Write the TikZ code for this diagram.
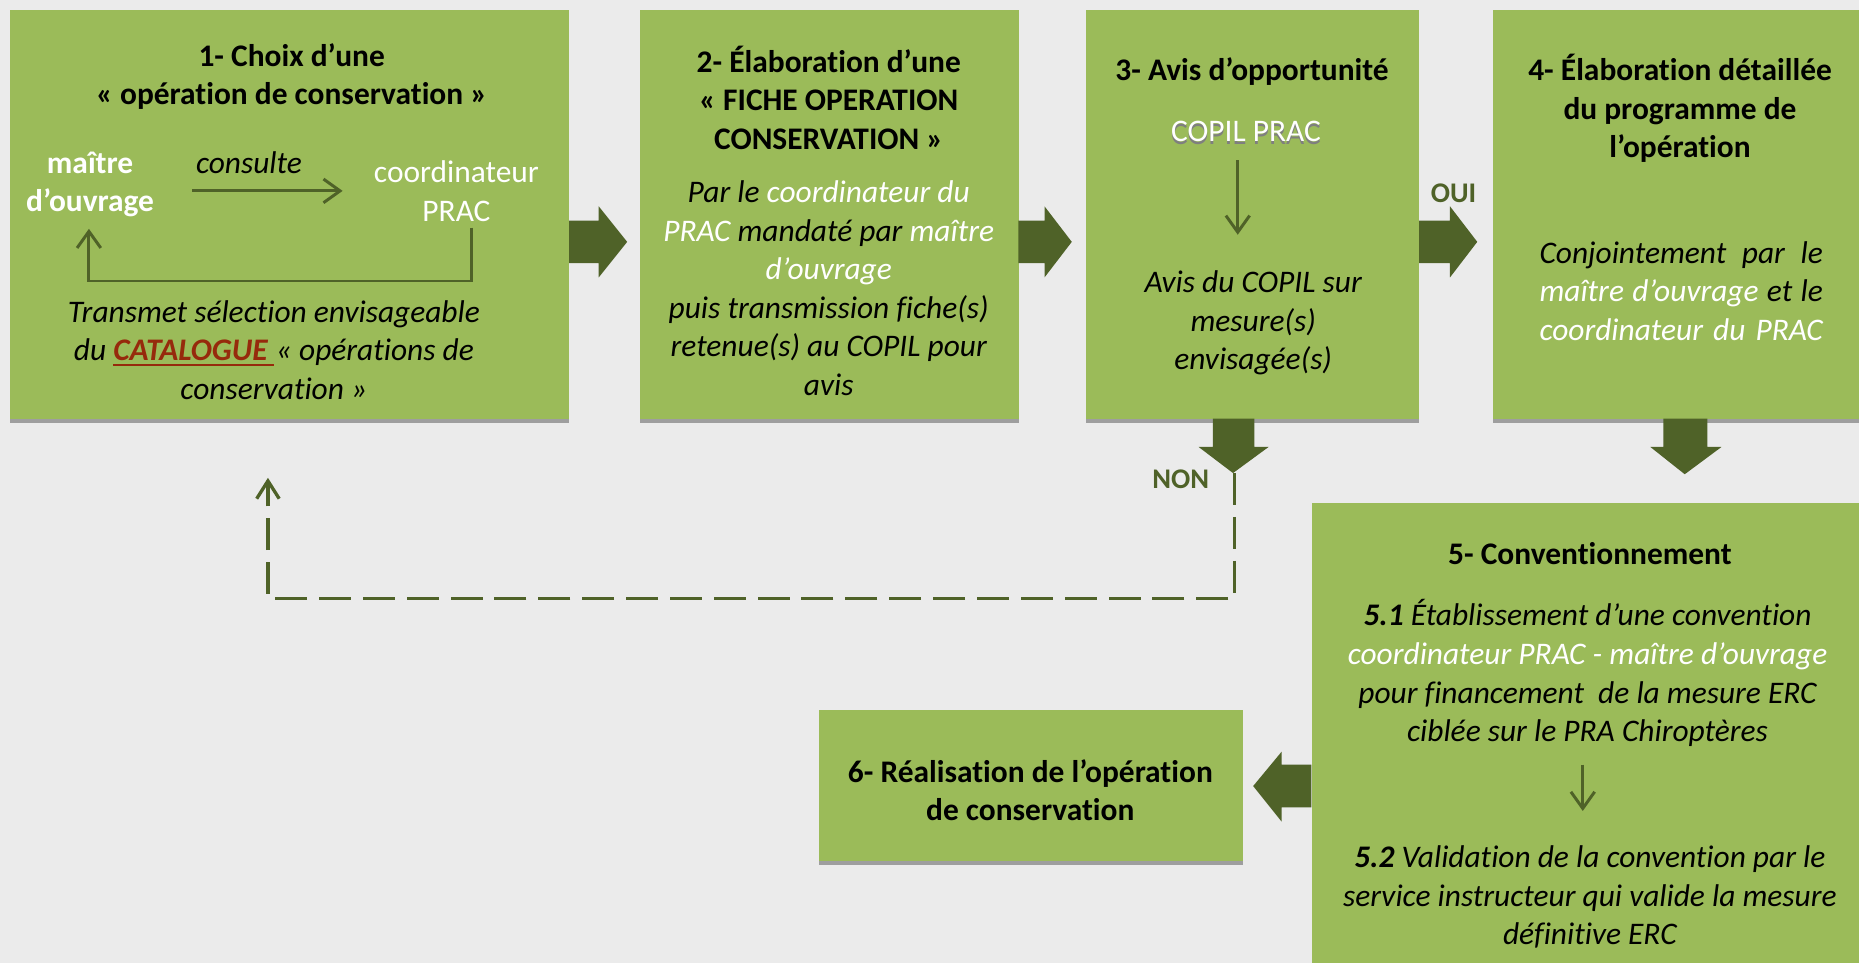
\documentclass[tikz,border=0pt]{standalone}
\usepackage{fontspec}
\setmainfont{Carlito}[Ligatures=NoCommon]
\usetikzlibrary{arrows.meta,shadows}
\definecolor{bg}{HTML}{EBEBEB}
\definecolor{boxgreen}{HTML}{9BBB59}
\definecolor{dkgreen}{HTML}{4F6228}
\definecolor{shadowgray}{HTML}{9E9E9E}
\definecolor{catred}{HTML}{962A0C}
\definecolor{copilgray}{HTML}{7F7F7F}
\newcommand\catul[1]{\setbox0=\hbox{#1}\rlap{\rule[-4pt]{\wd0}{1.6pt}}\box0}
\begin{document}
\begin{tikzpicture}[x=1pt,y=-1pt,
  box/.style={fill=boxgreen, inner sep=0pt, anchor=north west, general shadow={fill=shadowgray, shadow yshift=-3.5pt}},
  body/.style={anchor=north, inner sep=0pt, align=center, font=\fontsize{26.5}{32.5}\selectfont},
  ttl/.style={body, font=\fontsize{26.5}{32.5}\selectfont\bfseries},
  itl/.style={body, font=\fontsize{26.5}{32.5}\selectfont\itshape},
  blockarrow/.style={fill=dkgreen},
  thinarrow/.style={draw=dkgreen, line width=2.5pt, -{Straight Barb[length=14pt,width=20pt]}},
  dashline/.style={draw=dkgreen, line width=2.8pt, dash pattern=on 27pt off 10pt, -{Straight Barb[length=15pt,width=19pt]}},
  lbl/.style={inner sep=0pt, text=dkgreen, font=\fontsize{24}{28}\selectfont\bfseries}
]
\useasboundingbox (0,0) rectangle (1568,812);
\fill[bg] (0,0) rectangle (1568,812);
\clip (0,0) rectangle (1568,812);

% boxes
\node[box, minimum width=472pt, minimum height=345pt] (b1) at (8,8) {};
\node[box, minimum width=319pt, minimum height=345pt] (b2) at (540,8) {};
\node[box, minimum width=281pt, minimum height=345pt] (b3) at (916,8) {};
\node[box, minimum width=330pt, minimum height=345pt] (b4) at (1259,8) {};
\node[box, minimum width=480pt, minimum height=400pt] (b5) at (1106,424) {};
\node[box, minimum width=357pt, minimum height=127pt] (b6) at (691,599) {};

% block arrows
\fill[blockarrow] (480,186) -- (505,186) -- (505,174) -- (529,204) -- (505,234) -- (505,222) -- (480,222) -- cycle;
\fill[blockarrow] (859,186) -- (881,186) -- (881,174) -- (904,204) -- (881,234) -- (881,222) -- (859,222) -- cycle;
\fill[blockarrow] (1197,186) -- (1223,186) -- (1223,174) -- (1246,204) -- (1223,234) -- (1223,222) -- (1197,222) -- cycle;
\fill[blockarrow] (1023,353) -- (1058,353) -- (1058,377) -- (1070,377) -- (1040,399) -- (1011,377) -- (1023,377) -- cycle;
\fill[blockarrow] (1403,353) -- (1440,353) -- (1440,377) -- (1452,377) -- (1421,400) -- (1392,377) -- (1403,377) -- cycle;
\fill[blockarrow] (1106,645) -- (1081,645) -- (1081,634) -- (1057,663) -- (1081,693) -- (1081,681) -- (1106,681) -- cycle;

\node[lbl] (oui) at (1226,163) {OUI};
\node[lbl] (non) at (996,404) {NON};

% box 1
\node[ttl] (t1) at (246,33) {\strut 1- Choix d’une\\« opération de conservation »};
\node[body, font=\fontsize{26.5}{32.5}\selectfont\bfseries, text=white] (mo) at (76,123) {\strut maître\\d’ouvrage};
\node[itl] (cons) at (210,123) {\strut consulte};
\node[body, text=white] (coord) at (385,131) {\strut coordinateur\\PRAC};
\coordinate (c1s) at (162,161);
\coordinate (c1e) at (289,161);
\draw[thinarrow] (c1s) -- (c1e);
\coordinate (r1) at (398,192);
\coordinate (r2) at (75,193);
\draw[thinarrow] (r1) -- ++(0,45) -| (r2);
\node[itl] (trans) at (231,249) {\strut Transmet sélection envisageable\\du {\color{catred}\catul{\textbf{CATALOGUE}\kern5pt}}\kern2pt« opérations de\\conservation »};

% box 2
\node[ttl] (t2) at (699,38) {\strut 2- Élaboration d’une\\« FICHE OPERATION\\CONSERVATION »};
\node[itl] (d2) at (699,148) {\strut Par le \textcolor{white}{coordinateur du}\\\textcolor{white}{PRAC} mandaté par \textcolor{white}{maître}\\\textcolor{white}{d’ouvrage}\\puis transmission fiche(s)\\retenue(s) au COPIL pour\\avis};

% box 3
\node[ttl] (t3) at (1056,45) {\strut 3- Avis d’opportunité};
\node[body, text=copilgray] (copilsh) at (1051,99) {\strut COPIL PRAC};
\node[body, text=white] (copil) at (1051,96) {\strut COPIL PRAC};
\coordinate (c3s) at (1044,135);
\coordinate (c3e) at (1044,198);
\draw[thinarrow] (c3s) -- (c3e);
\node[itl] (d3) at (1057,224) {\strut Avis du COPIL sur\\mesure(s)\\envisagée(s)};

% box 4
\node[ttl] (t4) at (1417,45) {\strut 4- Élaboration détaillée\\du programme de\\l’opération};
\node[itl] (d4) at (1418,199) {\strut\makebox[239pt][s]{Conjointement\ \ par\ \ le}\\\makebox[239pt][s]{\textcolor{white}{maître d’ouvrage} et le}\\\makebox[239pt][s]{\textcolor{white}{coordinateur du PRAC}}};

% box 5
\node[ttl] (t5) at (1341,453) {\strut 5- Conventionnement};
\node[itl] (d51) at (1339,505) {\strut\textbf{5.1} Établissement d’une convention\\\textcolor{white}{coordinateur PRAC - maître d’ouvrage}\\pour financement\ \ de la mesure ERC\\ciblée sur le PRA Chiroptères};
\coordinate (c5s) at (1335,645);
\coordinate (c5e) at (1335,684);
\draw[thinarrow] (c5s) -- (c5e);
\node[itl] (d52) at (1341,709) {\strut\textbf{5.2} Validation de la convention par le\\service instructeur qui valide la mesure\\définitive ERC};

% box 6
\node[ttl] (t6) at (869,637) {\strut 6- Réalisation de l’opération\\de conservation};

% dashed return
\coordinate (nontip) at (1041,399);
\coordinate (dret) at (226,403);
\draw[dashline] (nontip) -- ++(0,106) -| (dret);
\end{tikzpicture}
\end{document}
